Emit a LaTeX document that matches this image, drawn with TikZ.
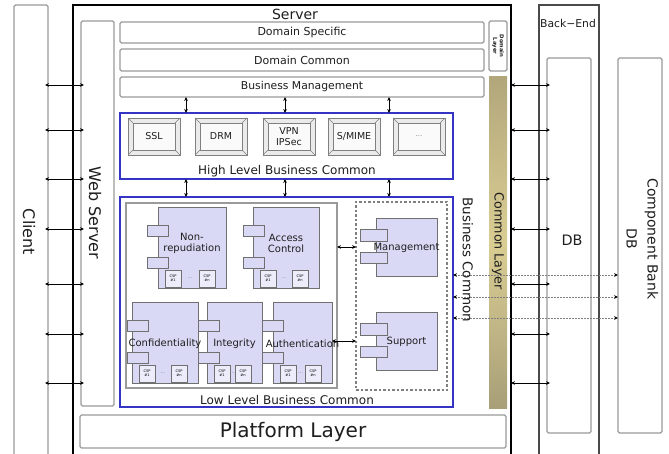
\documentclass[tikz,border=0pt]{standalone}
\usepackage{fontspec}
\setmainfont{DejaVu Sans}
\usetikzlibrary{arrows.meta}
\definecolor{gline}{HTML}{9A9A9A}
\definecolor{dline}{HTML}{4A4A4A}
\definecolor{blueln}{HTML}{3535C5}
\definecolor{lav}{HTML}{D9D9F6}
\definecolor{lavl}{HTML}{ECECFB}
\definecolor{cline}{HTML}{707070}
\definecolor{khT}{HTML}{B2A77B}
\definecolor{khM}{HTML}{DACD93}
\definecolor{khB}{HTML}{A89F78}
\definecolor{txt}{HTML}{1E1E1E}
\newcommand\fsz[2]{\fontsize{#1}{#2}\selectfont}
\newcommand\bx[7][]{\node[#7,anchor=north west,inner sep=0pt,outer sep=0pt,minimum width={((#5)-(#3))*1pt},minimum height={((#6)-(#4))*1pt}] (#2) at ({#3},{#4}) {#1};}
\tikzset{
 gbox/.style={draw=gline,line width=1.1pt,rounded corners=1.5pt,fill=white,text=txt},
 serverbox/.style={draw=black,line width=2pt},
 bkbox/.style={draw=dline,line width=1.1pt},
 khaki/.style={draw=none,top color=khT,bottom color=khB,middle color=khM},
 bluebox/.style={draw=blueln,line width=1.8pt,fill=white},
 secbox/.style={draw=gline,line width=1.1pt},
 dashbox/.style={draw=gray,line width=1.1pt,dash pattern=on 2.5pt off 2pt},
 compbody/.style={draw=cline,line width=0.9pt,fill=lav},
 port/.style={draw=cline,line width=0.9pt,fill=lav},
 csp/.style={draw=cline,line width=0.7pt,fill=lavl,font=\fsz{3.6}{4.2},align=center},
 comptext/.style={font=\fsz{10}{11},text=txt,align=center,inner sep=0pt},
 btnout/.style={draw=gray,line width=0.9pt,fill=black!8},
 btnin/.style={draw=gray,line width=0.7pt,fill=black!2},
 btnline/.style={draw=gray,line width=0.6pt},
 btntext/.style={font=\fsz{9.5}{11},align=center,text=txt,inner sep=0pt},
 lbl/.style={text=txt,inner sep=0pt,align=center},
 dar/.style={<->,>={Stealth[length=4pt,width=3.6pt]},line width=0.8pt,shorten <=-3pt,shorten >=-3pt},
 darr/.style={<->,>={Stealth[length=4pt,width=3.6pt]},line width=0.8pt,shorten >=-3pt},
 dar2/.style={<->,>={Stealth[length=4pt,width=3.6pt]},line width=0.8pt},
 dotar/.style={<->,>={Stealth[length=4pt,width=3.6pt,color=black]},draw=gray,line width=0.9pt,dash pattern=on 1.2pt off 1.8pt},
 dotsep/.style={text=gray,font=\fsz{5}{6},inner sep=0pt},
}
% name, x1, y1, x2, y2, text, text y, port left x
\newcommand\seccomp[8]{%
 \bx{#1}{#2}{#3}{#4}{#5}{compbody}
 \bx{#1-p1}{#8}{#3+18.5}{#8+21}{#3+29}{port}
 \bx{#1-p2}{#8}{#3+50.5}{#8+21}{#3+61}{port}
 \bx[CSP\\\#1]{#1-c1}{#2+7}{#5-18}{#2+23}{#5-1}{csp}
 \bx[CSP\\\#n]{#1-c2}{#4-27}{#5-18}{#4-11}{#5-1}{csp}
 \node[dotsep] (#1-d) at ({(#2+#4-4)/2},{#5-9.5}) {...};
 \node[comptext] (#1-t) at ({(#2+#4)/2},{#7}) {#6};
}
% name, x1, y1, x2, y2, text
\newcommand\plaincomp[6]{%
 \bx{#1}{#2}{#3}{#4}{#5}{compbody}
 \bx{#1-p1}{#2-16}{#3+11}{#2+11}{#3+23}{port}
 \bx{#1-p2}{#2-16}{#3+34}{#2+11}{#3+45}{port}
 \node[comptext] (#1-t) at ({(#2+#4)/2},{#3+30}) {#6};
}
% name, x1, text
\newcommand\btn[3]{%
 \bx{#1}{#2}{118}{#2+52}{155}{btnout}
 \bx{#1-i}{#2+5}{123}{#2+47}{150}{btnin}
 \draw[btnline] (#1.north west) -- (#1-i.north west);
 \draw[btnline] (#1.north east) -- (#1-i.north east);
 \draw[btnline] (#1.south west) -- (#1-i.south west);
 \draw[btnline] (#1.south east) -- (#1-i.south east);
 \node[btntext] (#1-t) at ({#2+26},136.5) {#3};
}
\begin{document}
\begin{tikzpicture}[x=1pt,y=-1pt]
\useasboundingbox (0,0) rectangle (669,454);
\clip (0,0) rectangle (669,454);
\fill[white] (0,0) rectangle (669,454);

% main columns
\bx{client}{14}{5}{48}{470}{gbox}
\bx{server}{73}{5}{511}{470}{serverbox}
\bx{web}{81}{21}{114}{406}{gbox}
\bx{backend}{539}{5}{599}{470}{bkbox}
\bx{db}{547}{58}{591}{433}{gbox}
\bx{cbank}{618}{58}{662}{433}{gbox}

% server layers
\bx[Domain Specific]{dspec}{120}{22}{484}{43}{gbox,font=\fsz{11}{13}}
\bx[Domain Common]{dcomm}{120}{49}{484}{71}{gbox,font=\fsz{11}{13}}
\bx[Business Management]{bmgmt}{120}{77}{484}{97}{gbox,font=\fsz{10.8}{13}}
\bx{dlayer}{489}{21}{507}{71}{gbox}
\bx{clayer}{489}{77}{507}{408}{khaki}
\bx{hlbc}{120}{113}{453}{179}{bluebox}
\bx{llbc}{120}{197}{453}{407}{bluebox}
\bx{secgrp}{126}{203}{337}{388}{secbox}
\bx{svcgrp}{356}{202}{447}{390}{dashbox}
\bx[Platform Layer]{platform}{80}{415}{506}{448}{gbox,font=\fsz{20}{24}}

% labels
\node[lbl,font=\fsz{14}{16}] (serverlbl) at (295,14) {Server};
\node[lbl,font=\fsz{16}{19},rotate=-90] (clientlbl) at (29,232) {Client};
\node[lbl,font=\fsz{16}{19},rotate=-90] (weblbl) at (95,213) {Web Server};
\node[lbl,font=\bfseries\fsz{5.3}{6.5},rotate=-90] (dlayerlbl) at (498,46) {Domain\\Layer};
\node[lbl,font=\fsz{12.7}{15},rotate=-90] (clayerlbl) at (498,241) {Common Layer};
\node[lbl,font=\fsz{13.5}{16},rotate=-90] (bclbl) at (468,260) {Business Common};
\node[lbl,font=\fsz{12}{14}] (hlbclbl) at (287,171) {High Level Business Common};
\node[lbl,font=\fsz{12}{14}] (llbclbl) at (287,400) {Low Level Business Common};
\node[lbl,font=\fsz{10.8}{13}] (belbl) at (568,23) {Back−End};
\node[lbl,font=\fsz{14.4}{17}] (dblbl) at (572,240) {DB};
\node[lbl,font=\fsz{14}{21},rotate=-90] (cbanklbl) at (642.5,239) {Component Bank\\DB};

% high level buttons
\btn{ssl}{128}{SSL}
\btn{drm}{195}{DRM}
\btn{vpn}{263}{VPN\\IPSec}
\btn{smime}{328}{S/MIME}
\btn{etc}{393}{\textcolor{gray}{\fsz{7}{8}...}}

% low level components
\seccomp{nonrep}{158}{207}{226}{288}{Non-\\repudiation}{243}{147}
\seccomp{access}{253}{207}{319}{288}{Access\\Control}{243}{243}
\seccomp{conf}{132}{302}{198}{383}{Confidentiality}{344}{127}
\seccomp{integ}{207}{302}{262}{383}{Integrity}{344}{198}
\seccomp{auth}{273}{302}{332}{383}{Authentication}{344}{262}
\plaincomp{mgmt}{376}{218}{437}{276}{Management}
\plaincomp{supp}{376}{312}{437}{370}{Support}

% connectors
\foreach \yy [count=\i] in {85,130,179,229,284,334,383}{
 \coordinate (h\i) at (0,\yy);
 \draw[dar] (client.east |- h\i) -- (web.west |- h\i);
 \draw[darr] (server.east |- h\i) -- (db.west |- h\i);
}
\foreach \xx [count=\i] in {186,285,389}{
 \coordinate (v\i) at (\xx,0);
 \draw[dar2] (bmgmt.south -| v\i) -- (hlbc.north -| v\i);
 \draw[dar2] (hlbc.south -| v\i) -- (llbc.north -| v\i);
}
\draw[dar2] (secgrp.east |- mgmt) -- (svcgrp.west |- mgmt);
\draw[dar2] (auth.east |- supp) -- (svcgrp.west |- supp);
\foreach \yy [count=\i] in {275,297,318}{
 \coordinate (w\i) at (0,\yy);
 \draw[dotar] (llbc.east |- w\i) -- (cbank.west |- w\i);
}
\end{tikzpicture}
\end{document}
